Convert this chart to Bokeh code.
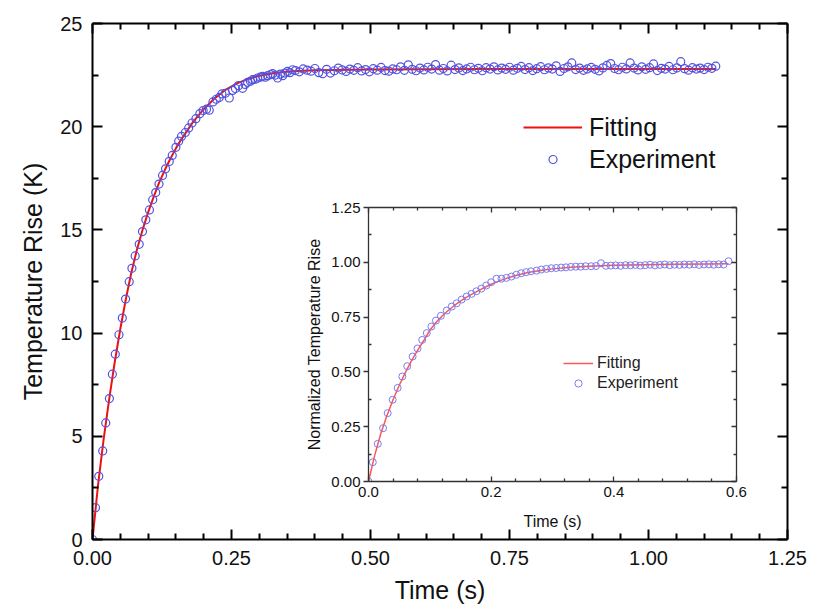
from bokeh.plotting import figure
from bokeh.models import (ColumnDataSource, LinearAxis, FixedTicker, CustomJSTickFormatter,
                          NumeralTickFormatter, Range1d, Legend, LegendItem)
from bokeh.layouts import column
from bokeh.embed import file_html
from bokeh.resources import INLINE

FONT = "Liberation Sans"

# ---------------- main chart data ----------------
rise_t = [0.000, 0.0054, 0.0113, 0.0184, 0.0238, 0.0304, 0.0357, 0.0410, 0.0476, 0.0536,
          0.0595, 0.0660, 0.0709, 0.0768, 0.0840, 0.0899, 0.0959, 0.1024, 0.1083, 0.1137,
          0.1196, 0.1260, 0.1314, 0.1380, 0.1434, 0.1500, 0.1550, 0.1600, 0.1670, 0.1730,
          0.1790, 0.1860, 0.1930, 0.1990, 0.2050, 0.2100, 0.2166, 0.2226, 0.2280, 0.2327,
          0.2390, 0.2460, 0.2520, 0.2570, 0.2625, 0.2700, 0.2745, 0.2790, 0.2840, 0.2880,
          0.2930, 0.2970, 0.3020, 0.3060, 0.3110, 0.3150, 0.3200, 0.3240, 0.3290, 0.3330,
          0.3380, 0.3420, 0.3460, 0.3506, 0.3550, 0.3600]
rise_T = [0.00, 1.54, 3.06, 4.29, 5.65, 6.83, 8.01, 8.98, 9.92, 10.73,
          11.65, 12.49, 13.14, 13.74, 14.30, 14.92, 15.49, 15.97, 16.46, 16.81,
          17.22, 17.64, 17.96, 18.32, 18.61, 19.00, 19.30, 19.53, 19.72, 19.94,
          20.18, 20.39, 20.63, 20.78, 20.85, 20.80, 21.20, 21.33, 21.42, 21.59,
          21.62, 21.39, 21.76, 21.85, 21.99, 21.86, 22.05, 22.15, 22.20, 22.28,
          22.30, 22.36, 22.40, 22.44, 22.40, 22.47, 22.52, 22.57, 22.50, 22.36,
          22.55, 22.47, 22.60, 22.68, 22.62, 22.76]

plat_t = [0.365, 0.372, 0.379, 0.386, 0.393, 0.400, 0.407, 0.414, 0.421, 0.428,
          0.435, 0.442, 0.449, 0.456, 0.463, 0.470, 0.477, 0.484, 0.491, 0.498,
          0.505, 0.512, 0.519, 0.526, 0.533, 0.540, 0.547, 0.554, 0.561, 0.568,
          0.575, 0.582, 0.589, 0.596, 0.603, 0.610, 0.617, 0.624, 0.631, 0.638,
          0.645, 0.652, 0.659, 0.666, 0.673, 0.680, 0.687, 0.694, 0.701, 0.708,
          0.715, 0.722, 0.729, 0.736, 0.743, 0.750, 0.757, 0.764, 0.771, 0.778,
          0.785, 0.792, 0.799, 0.806, 0.813, 0.820, 0.827, 0.834, 0.841, 0.848,
          0.855, 0.862, 0.869, 0.876, 0.883, 0.890, 0.897, 0.904, 0.911, 0.918,
          0.925, 0.932, 0.939, 0.946, 0.953, 0.960, 0.967, 0.974, 0.981, 0.988,
          0.995, 1.002, 1.009, 1.016, 1.023, 1.030, 1.037, 1.044, 1.051, 1.058,
          1.065, 1.072, 1.079, 1.086, 1.093, 1.100, 1.107, 1.114, 1.121]
plat_T = [22.72, 22.66, 22.80, 22.74, 22.69, 22.82, 22.62, 22.57, 22.78, 22.60,
          22.71, 22.84, 22.75, 22.68, 22.79, 22.73, 22.86, 22.70, 22.77, 22.66,
          22.81, 22.74, 22.87, 22.72, 22.69, 22.80, 22.76, 22.90, 22.73, 23.00,
          22.78, 22.71, 22.84, 22.75, 22.88, 22.79, 23.01, 22.74, 22.82, 22.70,
          22.98, 22.77, 22.85, 22.72, 22.80, 22.88, 22.76, 22.83, 22.71, 22.86,
          22.79, 22.90, 22.75, 22.84, 22.78, 22.88, 22.74, 22.83, 22.92, 22.77,
          22.86, 22.72, 22.81, 22.91, 22.76, 22.85, 22.79, 22.95, 22.68, 22.82,
          22.90, 23.09, 22.77, 22.84, 22.73, 22.80, 22.87, 22.78, 22.70, 22.85,
          22.97, 23.06, 22.82, 22.76, 22.88, 22.80, 23.09, 22.84, 22.75, 22.90,
          22.78, 22.86, 23.04, 22.72, 22.83, 22.79, 22.92, 22.76, 22.85, 23.15,
          22.81, 22.74, 22.86, 22.79, 22.84, 22.77, 22.88, 22.83, 22.93]

fit_t = [0.000, 0.010, 0.020, 0.030, 0.040, 0.050, 0.060, 0.070, 0.080, 0.090,
         0.100, 0.110, 0.120, 0.130, 0.140, 0.150, 0.160, 0.180, 0.200, 0.220,
         0.240, 0.260, 0.280, 0.300, 0.330, 0.360, 0.400, 0.500, 0.700, 0.900, 1.121]
fit_T = [0.00, 2.65, 4.85, 6.80, 8.60, 10.20, 11.65, 12.95, 14.05, 15.00,
         15.85, 16.60, 17.30, 17.90, 18.45, 18.95, 19.40, 20.20, 20.85, 21.38,
         21.80, 22.10, 22.32, 22.47, 22.61, 22.69, 22.74, 22.77, 22.79, 22.80, 22.80]

# ---------------- inset data ----------------
in_t = [0.000, 0.0070, 0.0151, 0.0238, 0.0313, 0.0394, 0.0475, 0.0551, 0.0632, 0.0719,
        0.0800, 0.0876, 0.0951, 0.1026, 0.1100, 0.1180, 0.1276, 0.1357, 0.1438, 0.1519,
        0.1600, 0.1680, 0.1760, 0.1840, 0.1920, 0.2000, 0.2087, 0.2168, 0.2249, 0.2330,
        0.2410, 0.2490, 0.2570, 0.2650, 0.2740, 0.2816, 0.2900, 0.2980, 0.3060, 0.3140,
        0.3220, 0.3300, 0.3380, 0.3460, 0.3540, 0.3630, 0.3710, 0.3790,
        0.387, 0.395, 0.403, 0.411, 0.419, 0.427, 0.435, 0.443, 0.451, 0.459,
        0.467, 0.475, 0.483, 0.491, 0.499, 0.507, 0.515, 0.523, 0.531, 0.539,
        0.547, 0.555, 0.563, 0.571, 0.579, 0.587]
in_v = [0.000, 0.088, 0.172, 0.243, 0.312, 0.373, 0.427, 0.479, 0.526, 0.570,
        0.607, 0.646, 0.677, 0.707, 0.734, 0.756, 0.780, 0.798, 0.813, 0.830,
        0.844, 0.856, 0.868, 0.880, 0.894, 0.909, 0.925, 0.925, 0.929, 0.935,
        0.943, 0.950, 0.955, 0.959, 0.962, 0.967, 0.970, 0.973, 0.974, 0.976,
        0.977, 0.979, 0.980, 0.980, 0.982, 0.982, 0.983, 0.996,
        0.984, 0.985, 0.986, 0.984, 0.987, 0.986, 0.988, 0.985, 0.987, 0.989,
        0.986, 0.988, 0.990, 0.987, 0.989, 0.988, 0.990, 0.989, 0.991, 0.988,
        0.990, 0.991, 0.989, 0.991, 0.990, 1.005]

infit_t = [0.00, 0.01, 0.02, 0.03, 0.04, 0.05, 0.06, 0.07, 0.08, 0.09,
           0.10, 0.11, 0.12, 0.13, 0.14, 0.15, 0.16, 0.18, 0.20, 0.22,
           0.24, 0.26, 0.28, 0.30, 0.33, 0.36, 0.40, 0.45, 0.50, 0.55, 0.587]
infit_v = [0.000, 0.118, 0.218, 0.300, 0.373, 0.438, 0.497, 0.550, 0.598, 0.642,
           0.690, 0.725, 0.755, 0.780, 0.803, 0.823, 0.841, 0.872, 0.900, 0.922,
           0.940, 0.953, 0.963, 0.970, 0.977, 0.982, 0.986, 0.989, 0.991, 0.992, 0.993]

# tick values
main_x_major = [0.0, 0.25, 0.5, 0.75, 1.0, 1.25]
main_x_minor = [0.05, 0.1, 0.15, 0.2, 0.3, 0.35, 0.4, 0.45, 0.55, 0.6, 0.65, 0.7,
                0.8, 0.85, 0.9, 0.95, 1.05, 1.1, 1.15, 1.2]
main_y_major = [0, 5, 10, 15, 20, 25]
main_y_minor = [2.5, 7.5, 12.5, 17.5, 22.5]
in_x_major = [0.0, 0.2, 0.4, 0.6]
in_x_minor = [0.04, 0.08, 0.12, 0.16, 0.24, 0.28, 0.32, 0.36, 0.44, 0.48, 0.52, 0.56]
in_y_major = [0.0, 0.25, 0.5, 0.75, 1.0, 1.25]
in_y_minor = [0.125, 0.375, 0.625, 0.875, 1.125]
labels = ["Fitting", "Experiment"]

exp_src = ColumnDataSource(dict(t=rise_t + plat_t, T=rise_T + plat_T))
fit_src = ColumnDataSource(dict(t=fit_t, T=fit_T))
in_src = ColumnDataSource(dict(t=in_t, v=in_v))
infit_src = ColumnDataSource(dict(t=infit_t, v=infit_v))

BLANK = CustomJSTickFormatter(code="return '';")

def style_axis(ax, ticker, fmt=None, labels_on=True, size="20px", lw=2, color="black",
               major_in=10, minor_in=6, major_out=0, standoff=8):
    ax.ticker = ticker
    ax.axis_line_color = color
    ax.axis_line_width = lw
    ax.major_tick_line_color = color
    ax.minor_tick_line_color = color
    ax.major_tick_line_width = lw
    ax.minor_tick_line_width = lw
    ax.major_tick_in = major_in
    ax.major_tick_out = major_out
    ax.minor_tick_in = minor_in
    ax.minor_tick_out = 0
    ax.major_label_text_font = FONT
    ax.major_label_text_color = "#111111"
    ax.axis_label_text_font = FONT
    ax.axis_label_text_font_style = "normal"
    ax.axis_label_text_color = "#111111"
    if labels_on:
        ax.formatter = fmt
        ax.major_label_text_font_size = size
        ax.major_label_standoff = standoff
    else:
        ax.formatter = BLANK
        ax.major_label_standoff = 0

# ---------------- main figure ----------------
p = figure(width=819, height=613, output_backend="svg", toolbar_location=None,
           x_range=Range1d(0, 1.25), y_range=Range1d(0, 25),
           min_border_left=87, min_border_right=32, min_border_top=23, min_border_bottom=74,
           background_fill_color="white", border_fill_color="white")
p.xgrid.visible = False
p.ygrid.visible = False
p.outline_line_color = None

xb = p.xaxis[0]
yl = p.yaxis[0]
style_axis(xb, FixedTicker(ticks=main_x_major, minor_ticks=main_x_minor),
           NumeralTickFormatter(format="0.00"), standoff=11)
style_axis(yl, FixedTicker(ticks=main_y_major, minor_ticks=main_y_minor),
           NumeralTickFormatter(format="0"), standoff=10)
xb.axis_label = "Time (s)"
xb.axis_label_text_font_size = "25px"
xb.axis_label_standoff = 8
yl.axis_label = "Temperature Rise (K)"
yl.axis_label_text_font_size = "25px"
yl.axis_label_standoff = 10

xt = LinearAxis()
style_axis(xt, FixedTicker(ticks=main_x_major, minor_ticks=main_x_minor), labels_on=False)
p.add_layout(xt, "above")
yr = LinearAxis()
style_axis(yr, FixedTicker(ticks=main_y_major, minor_ticks=main_y_minor), labels_on=False)
p.add_layout(yr, "right")

r_fit = p.line("t", "T", source=fit_src, line_color="#ee1111", line_width=2)
r_exp = p.scatter("t", "T", source=exp_src, marker="circle", size=8, fill_color=None,
                  line_color="#5252e0", line_width=1.2)

leg = Legend(items=[LegendItem(label=labels[0], renderers=[r_fit]),
                    LegendItem(label=labels[1], renderers=[r_exp])],
             location=(431, 365), margin=0, padding=0, spacing=2,
             glyph_width=59, glyph_height=20, label_height=30, label_standoff=7,
             label_text_font=FONT, label_text_font_size="25px", label_text_color="#111111",
             background_fill_alpha=0, border_line_color=None)
p.add_layout(leg, "center")

# ---------------- inset figure ----------------
IL, IR, IT, IB = 92, 30, 20, 52
ins = figure(width=IL + 370 + IR, height=IT + 274 + IB, output_backend="svg",
             toolbar_location=None,
             x_range=Range1d(0, 0.6), y_range=Range1d(0, 1.25),
             min_border_left=IL, min_border_right=IR, min_border_top=IT, min_border_bottom=IB,
             background_fill_color="white", border_fill_alpha=0)
ins.styles = {"position": "absolute", "left": f"{368 - IL}px", "top": f"{207 - IT}px"}
ins.xgrid.visible = False
ins.ygrid.visible = False
ins.outline_line_color = None

ixb = ins.xaxis[0]
iyl = ins.yaxis[0]
ICOL = "#333333"
style_axis(ixb, FixedTicker(ticks=in_x_major, minor_ticks=in_x_minor),
           NumeralTickFormatter(format="0.0"), size="15px", lw=1.3, color=ICOL,
           major_in=5, minor_in=3, standoff=5)
style_axis(iyl, FixedTicker(ticks=in_y_major, minor_ticks=in_y_minor),
           NumeralTickFormatter(format="0.00"), size="15px", lw=1.3, color=ICOL,
           major_in=0, major_out=5, minor_in=3, standoff=3)
ixb.axis_label = "Time (s)"
ixb.axis_label_text_font_size = "16px"
ixb.axis_label_standoff = 13
iyl.axis_label = "Normalized Temperature Rise"
iyl.axis_label_text_font_size = "16px"
iyl.axis_label_standoff = 5

ixt = LinearAxis()
style_axis(ixt, FixedTicker(ticks=in_x_major, minor_ticks=in_x_minor), labels_on=False,
           lw=1.3, color=ICOL, major_in=5, minor_in=3)
ins.add_layout(ixt, "above")
iyr = LinearAxis()
style_axis(iyr, FixedTicker(ticks=in_y_major, minor_ticks=in_y_minor), labels_on=False,
           lw=1.3, color=ICOL, major_in=5, minor_in=3)
ins.add_layout(iyr, "right")

ir_fit = ins.line("t", "v", source=infit_src, line_color="#ff5555", line_width=1.5)
ir_exp = ins.scatter("t", "v", source=in_src, marker="circle", size=7, fill_color=None,
                     line_color="#7c7cee", line_width=1)

ileg = Legend(items=[LegendItem(label=labels[0], renderers=[ir_fit]),
                     LegendItem(label=labels[1], renderers=[ir_exp])],
              location=(195, 89), margin=0, padding=0, spacing=2,
              glyph_width=30, glyph_height=18, label_height=18, label_standoff=4,
              label_text_font=FONT, label_text_font_size="16px", label_text_color="#222222",
              background_fill_alpha=0, border_line_color=None)
ins.add_layout(ileg, "center")

layout = column(p, ins)
open("out.html", "w").write(file_html(layout, INLINE))
